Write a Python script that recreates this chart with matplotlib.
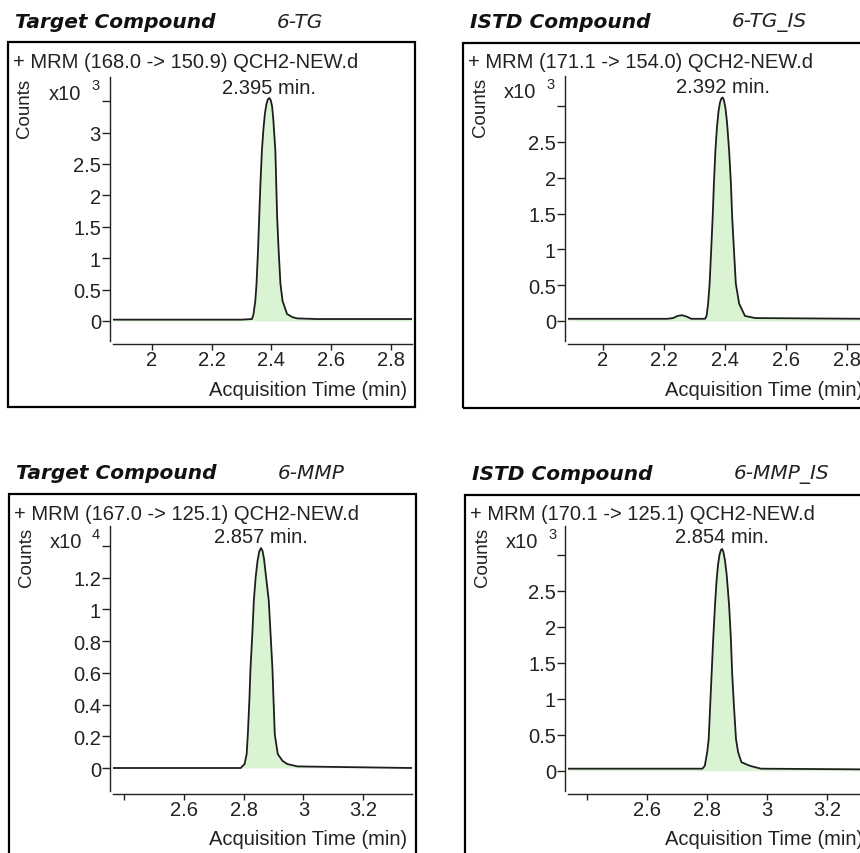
import matplotlib
matplotlib.use("Agg")
import matplotlib.pyplot as plt
from matplotlib.patches import Rectangle

# Dati dei cromatogrammi
titles = ["Target Compound", "ISTD Compound", "Target Compound", "ISTD Compound"]
compounds = ["6-TG", "6-TG_IS", "6-MMP", "6-MMP_IS"]
headers = ["+ MRM (168.0 -> 150.9) QCH2-NEW.d", "+ MRM (171.1 -> 154.0) QCH2-NEW.d",
           "+ MRM (167.0 -> 125.1) QCH2-NEW.d", "+ MRM (170.1 -> 125.1) QCH2-NEW.d"]
rt_labels = ["2.395 min.", "2.392 min.", "2.857 min.", "2.854 min."]
exponents = ["3", "3", "4", "3"]

tg_t = [1.87, 2.00, 2.20, 2.30, 2.335, 2.340, 2.346, 2.350, 2.355, 2.359, 2.363, 2.368, 2.373, 2.378,
        2.383, 2.388, 2.393, 2.398, 2.402, 2.406, 2.413, 2.416, 2.419, 2.424, 2.430, 2.437, 2.452,
        2.470, 2.486, 2.55, 2.70, 2.87]
tg_y = [0.02, 0.02, 0.02, 0.02, 0.03, 0.11, 0.32, 0.59, 1.12, 1.65, 2.18, 2.71, 3.05, 3.30,
        3.45, 3.53, 3.55, 3.51, 3.42, 3.22, 2.71, 2.18, 1.65, 1.12, 0.59, 0.32, 0.11,
        0.06, 0.04, 0.03, 0.03, 0.03]

tgis_t = [1.885, 2.10, 2.21, 2.23, 2.245, 2.26, 2.275, 2.29, 2.335, 2.340, 2.345, 2.350, 2.355, 2.360,
          2.364, 2.369, 2.374, 2.379, 2.384, 2.389, 2.393, 2.397, 2.402, 2.407, 2.414, 2.420, 2.424,
          2.430, 2.436, 2.447, 2.466, 2.50, 2.87]
tgis_y = [0.03, 0.03, 0.03, 0.04, 0.07, 0.08, 0.06, 0.03, 0.03, 0.07, 0.24, 0.52, 0.98, 1.45,
          1.91, 2.38, 2.70, 2.92, 3.05, 3.11, 3.12, 3.08, 2.97, 2.78, 2.38, 1.91, 1.45,
          0.98, 0.52, 0.24, 0.07, 0.04, 0.03]

mmp_t = [2.363, 2.60, 2.79, 2.803, 2.810, 2.814, 2.819, 2.823, 2.829, 2.834, 2.840, 2.846, 2.852, 2.858,
         2.863, 2.868, 2.874, 2.884, 2.890, 2.896, 2.900, 2.904, 2.914, 2.930, 2.946, 2.98, 3.363]
mmp_y = [0.0, 0.0, 0.0, 0.025, 0.088, 0.214, 0.424, 0.635, 0.845, 1.055, 1.20, 1.30, 1.365, 1.387,
         1.37, 1.32, 1.22, 1.055, 0.845, 0.635, 0.424, 0.214, 0.088, 0.045, 0.025, 0.01, 0.0]

mmpis_t = [2.337, 2.60, 2.785, 2.793, 2.801, 2.806, 2.811, 2.816, 2.821, 2.827, 2.832, 2.837, 2.842,
           2.847, 2.851, 2.855, 2.860, 2.866, 2.874, 2.880, 2.884, 2.890, 2.897, 2.904, 2.915, 2.943,
           2.98, 3.337]
mmpis_y = [0.03, 0.03, 0.03, 0.07, 0.26, 0.44, 0.91, 1.37, 1.83, 2.30, 2.63, 2.86, 3.00,
           3.07, 3.08, 3.04, 2.93, 2.72, 2.30, 1.83, 1.37, 0.91, 0.44, 0.26, 0.12, 0.07,
           0.03, 0.02]

yticks_list = [[0, 0.5, 1, 1.5, 2, 2.5, 3, 3.5], [0, 0.5, 1, 1.5, 2, 2.5, 3],
               [0, 0.2, 0.4, 0.6, 0.8, 1, 1.2, 1.4], [0, 0.5, 1, 1.5, 2, 2.5, 3]]
xticks_list = [[2, 2.2, 2.4, 2.6, 2.8], [2, 2.2, 2.4, 2.6, 2.8],
               [2.4, 2.6, 2.8, 3, 3.2], [2.4, 2.6, 2.8, 3, 3.2]]
xlims = [(1.87, 2.87), (1.885, 2.87), (2.363, 3.363), (2.337, 3.337)]
ylims = [(-0.32, 3.885), (-0.28, 3.42), (-0.145, 1.526), (-0.28, 3.40)]
series = [(tg_t, tg_y), (tgis_t, tgis_y), (mmp_t, mmp_y), (mmpis_t, mmpis_y)]

# Geometria in pixel: (box sx, box top, assi sx, assi dx, assi top, assi bottom)
W, H = 860, 854
panels = [(8, 43, 113, 412, 78, 342),
          (463, 44, 568, 868, 77, 342),
          (9, 495, 113, 412, 527, 792),
          (465, 496, 568, 868, 527, 792)]

FS = 14.5
FONT = "Liberation Sans"
LINE = "#1e1e1e"
FILL = "#daf4d3"

fig = plt.figure(figsize=(W / 100, H / 100), dpi=100)


def fx(x):
    return x / W


def fy(y):
    return 1 - y / H


for i in range(4):
    bx, by, ax0, ax1, ay0, ay1 = panels[i]

    # riquadro esterno
    fig.patches.append(Rectangle((fx(bx), fy(by + 365)), 407 / W, 365 / H, transform=fig.transFigure,
                                 fill=False, edgecolor="black", linewidth=1.6))

    ax = fig.add_axes([fx(ax0), fy(ay1), (ax1 - ax0) / W, (ay1 - ay0) / H])
    t, y = series[i]
    ax.fill_between(t, 0, y, color=FILL, linewidth=0)
    ax.plot(t, y, color=LINE, linewidth=1.3)
    ax.set_xlim(*xlims[i])
    ax.set_ylim(*ylims[i])

    for s in ["top", "right"]:
        ax.spines[s].set_visible(False)
    ax.spines["left"].set_position(("outward", 2.2))
    ax.spines["bottom"].set_position(("outward", 2.2))
    for s in ["left", "bottom"]:
        ax.spines[s].set_linewidth(1.0)
        ax.spines[s].set_color("#222222")

    yt = yticks_list[i]
    ax.set_yticks(yt)
    ax.set_yticklabels([f"{v:g}" for v in yt[:-1]] + [""])
    xt = xticks_list[i]
    ax.set_xticks(xt)
    if i < 2:
        ax.set_xticklabels([f"{v:g}" for v in xt])
    else:
        ax.set_xticklabels([""] + [f"{v:g}" for v in xt[1:]])
    ax.tick_params(axis="both", length=5.5, width=1.0, color="#222222", labelsize=FS,
                   labelcolor="#222222", pad=1)
    ax.tick_params(axis="x", length=4.5, pad=0)
    for lab in ax.get_xticklabels() + ax.get_yticklabels():
        lab.set_fontfamily(FONT)

    # testi
    fig.text(fx(bx + 7), fy(by - 21), titles[i], fontsize=FS, fontweight="bold", style="italic",
             family="DejaVu Sans", va="center", ha="left", color="#111111")
    fig.text(fx(bx + 269), fy(by - 21), compounds[i], fontsize=FS, style="italic",
             family="DejaVu Sans", va="center", ha="left", color="#222222")
    fig.text(fx(bx + 5), fy(by + 19), headers[i], fontsize=FS, family=FONT, va="center",
             ha="left", color="#222222")
    fig.text(fx(bx + 17), fy(ay0 + 30), "Counts", fontsize=13.5, family=FONT, rotation=90,
             va="center", ha="center", color="#222222")
    fig.text(fx(bx + 41), fy(ay0 + 16), "x10", fontsize=FS, family=FONT, va="center",
             ha="left", color="#222222")
    fig.text(fx(bx + 83), fy(ay0 + 8), exponents[i], fontsize=10.5, family=FONT, va="center",
             ha="left", color="#222222")
    # etichetta del tempo di ritenzione sopra il picco
    ax.annotate(rt_labels[i], xy=(t[y.index(max(y))], 1.0), xycoords=("data", "axes fraction"),
                xytext=(0, -7.5), textcoords="offset points", ha="center", va="center",
                fontsize=FS, family=FONT, color="#222222", annotation_clip=False)
    fig.text(fx(ax1 - 5), fy(ay1 + 48), "Acquisition Time (min)", fontsize=FS, family=FONT,
             va="center", ha="right", color="#222222")

fig.savefig("out.png", dpi=100)
